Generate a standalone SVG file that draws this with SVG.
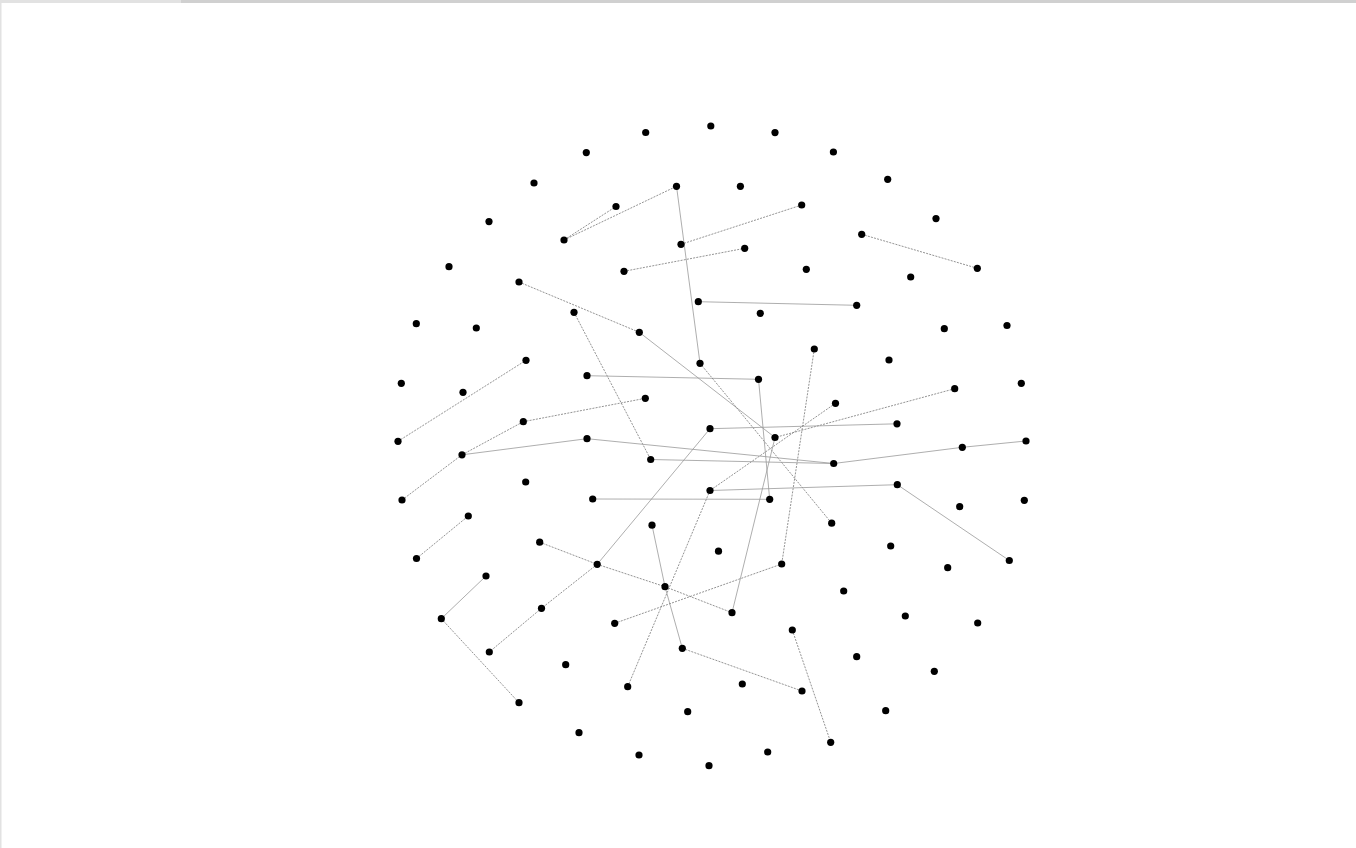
<svg xmlns="http://www.w3.org/2000/svg" width="1356" height="848" viewBox="0 0 1356 848">
<style>
.n{fill:#000}
circle{r:3.6px}
.e{stroke:#999;stroke-width:0.8;fill:none}
.d{stroke:#777;stroke-width:0.8;fill:none;stroke-dasharray:2 1.2}
</style>
<rect width="1356" height="848" fill="#fff"/>
<rect x="0" y="0" width="1356" height="3" fill="#d0d0d0"/>
<rect x="0" y="0" width="181" height="3" fill="#e2e2e2"/>
<rect x="0" y="0" width="1.5" height="848" fill="#e2e2e2"/>
<g id="edges">
<line class="d" x1="564" y1="240" x2="616" y2="206.5"/>
<line class="d" x1="564" y1="240" x2="676.5" y2="186.3"/>
<line class="e" x1="676.5" y1="186.3" x2="700" y2="363.3"/>
<line class="d" x1="681" y1="244.3" x2="801.7" y2="205"/>
<line class="d" x1="624" y1="271.3" x2="744.7" y2="248.3"/>
<line class="d" x1="861.7" y1="234.3" x2="977.3" y2="268.3"/>
<line class="e" x1="698.3" y1="301.7" x2="856.7" y2="305.3"/>
<line class="d" x1="519" y1="282" x2="639.3" y2="332.3"/>
<line class="e" x1="639.3" y1="332.3" x2="775" y2="437.5"/>
<line class="d" x1="574" y1="312.3" x2="650.7" y2="459.5"/>
<line class="d" x1="398" y1="441.3" x2="526" y2="360.3"/>
<line class="e" x1="587" y1="375.7" x2="758.5" y2="379.3"/>
<line class="d" x1="700" y1="363.3" x2="831.7" y2="523.2"/>
<line class="e" x1="758.5" y1="379.3" x2="769.7" y2="499.3"/>
<line class="d" x1="814.3" y1="349" x2="781.7" y2="564"/>
<line class="d" x1="835.5" y1="403.3" x2="710" y2="490.5"/>
<line class="d" x1="954.7" y1="388.7" x2="775" y2="437.5"/>
<line class="e" x1="710" y1="428.7" x2="897" y2="423.8"/>
<line class="e" x1="710" y1="428.7" x2="597.2" y2="564.3"/>
<line class="d" x1="597.2" y1="564.3" x2="541.5" y2="608.3"/>
<line class="d" x1="541.5" y1="608.3" x2="489.3" y2="652"/>
<line class="e" x1="587" y1="438.7" x2="833.7" y2="463.5"/>
<line class="e" x1="650.7" y1="459.5" x2="833.7" y2="463.5"/>
<line class="e" x1="462" y1="454.8" x2="587" y2="438.7"/>
<line class="d" x1="402" y1="500" x2="462" y2="454.8"/>
<line class="d" x1="462" y1="454.8" x2="523.3" y2="421.7"/>
<line class="d" x1="523.3" y1="421.7" x2="645.3" y2="398.3"/>
<line class="e" x1="592.7" y1="499" x2="769.7" y2="499.3"/>
<line class="e" x1="710" y1="490.5" x2="897.3" y2="484.7"/>
<line class="e" x1="897.3" y1="484.7" x2="1009.3" y2="560.5"/>
<line class="e" x1="833.7" y1="463.5" x2="962.3" y2="447.3"/>
<line class="e" x1="962.3" y1="447.3" x2="1026" y2="441"/>
<line class="d" x1="710" y1="490.5" x2="627.7" y2="686.7"/>
<line class="e" x1="652" y1="525.2" x2="665" y2="586.7"/>
<line class="e" x1="665" y1="586.7" x2="682.3" y2="648.3"/>
<line class="d" x1="539.7" y1="542.2" x2="597.2" y2="564.3"/>
<line class="d" x1="597.2" y1="564.3" x2="665" y2="586.7"/>
<line class="d" x1="665" y1="586.7" x2="732" y2="612.7"/>
<line class="d" x1="614.7" y1="623.3" x2="781.7" y2="564"/>
<line class="d" x1="682.3" y1="648.3" x2="802" y2="691"/>
<line class="d" x1="792.3" y1="630" x2="830.7" y2="742.3"/>
<line class="e" x1="441.3" y1="618.7" x2="486" y2="576"/>
<line class="d" x1="441.3" y1="618.7" x2="519" y2="702.7"/>
<line class="d" x1="416.5" y1="558.5" x2="468.3" y2="516"/>
<line class="e" x1="732" y1="612.7" x2="775" y2="437.5"/>
</g>
<g id="nodes">
<circle id="n1" class="n" cx="710.8" cy="126" r="3.6"/>
<circle id="n2" class="n" cx="645.7" cy="132.5" r="3.6"/>
<circle id="n3" class="n" cx="775" cy="132.6" r="3.6"/>
<circle id="n4" class="n" cx="586.3" cy="152.6" r="3.6"/>
<circle id="n5" class="n" cx="833.4" cy="152" r="3.6"/>
<circle id="n6" class="n" cx="534" cy="183" r="3.6"/>
<circle id="n7" class="n" cx="887.7" cy="179.3" r="3.6"/>
<circle id="n8" class="n" cx="676.5" cy="186.3" r="3.6"/>
<circle id="n9" class="n" cx="740.4" cy="186.3" r="3.6"/>
<circle id="n10" class="n" cx="616" cy="206.5" r="3.6"/>
<circle id="n11" class="n" cx="801.7" cy="205" r="3.6"/>
<circle id="n12" class="n" cx="489" cy="221.6" r="3.6"/>
<circle id="n13" class="n" cx="936" cy="218.6" r="3.6"/>
<circle id="n14" class="n" cx="564" cy="240" r="3.6"/>
<circle id="n15" class="n" cx="681" cy="244.3" r="3.6"/>
<circle id="n16" class="n" cx="744.7" cy="248.3" r="3.6"/>
<circle id="n17" class="n" cx="861.7" cy="234.3" r="3.6"/>
<circle id="n18" class="n" cx="449" cy="266.7" r="3.6"/>
<circle id="n19" class="n" cx="624" cy="271.3" r="3.6"/>
<circle id="n20" class="n" cx="806.3" cy="269.3" r="3.6"/>
<circle id="n21" class="n" cx="977.3" cy="268.3" r="3.6"/>
<circle id="n22" class="n" cx="910.7" cy="277" r="3.6"/>
<circle id="n23" class="n" cx="519" cy="282" r="3.6"/>
<circle id="n24" class="n" cx="698.3" cy="301.7" r="3.6"/>
<circle id="n25" class="n" cx="856.7" cy="305.3" r="3.6"/>
<circle id="n26" class="n" cx="574" cy="312.3" r="3.6"/>
<circle id="n27" class="n" cx="760.3" cy="313.3" r="3.6"/>
<circle id="n28" class="n" cx="416.3" cy="323.7" r="3.6"/>
<circle id="n29" class="n" cx="476.3" cy="328" r="3.6"/>
<circle id="n30" class="n" cx="639.3" cy="332.3" r="3.6"/>
<circle id="n31" class="n" cx="944.3" cy="328.7" r="3.6"/>
<circle id="n32" class="n" cx="1007" cy="325.5" r="3.6"/>
<circle id="n33" class="n" cx="814.3" cy="349" r="3.6"/>
<circle id="n34" class="n" cx="526" cy="360.3" r="3.6"/>
<circle id="n35" class="n" cx="700" cy="363.3" r="3.6"/>
<circle id="n36" class="n" cx="889" cy="360" r="3.6"/>
<circle id="n37" class="n" cx="401.3" cy="383.3" r="3.6"/>
<circle id="n38" class="n" cx="463" cy="392.3" r="3.6"/>
<circle id="n39" class="n" cx="587" cy="375.7" r="3.6"/>
<circle id="n40" class="n" cx="758.5" cy="379.3" r="3.6"/>
<circle id="n41" class="n" cx="1021.3" cy="383.3" r="3.6"/>
<circle id="n42" class="n" cx="954.7" cy="388.7" r="3.6"/>
<circle id="n43" class="n" cx="645.3" cy="398.3" r="3.6"/>
<circle id="n44" class="n" cx="835.5" cy="403.3" r="3.6"/>
<circle id="n45" class="n" cx="523.3" cy="421.7" r="3.6"/>
<circle id="n46" class="n" cx="710" cy="428.7" r="3.6"/>
<circle id="n47" class="n" cx="897" cy="423.8" r="3.6"/>
<circle id="n48" class="n" cx="775" cy="437.5" r="3.6"/>
<circle id="n49" class="n" cx="398" cy="441.3" r="3.6"/>
<circle id="n50" class="n" cx="587" cy="438.7" r="3.6"/>
<circle id="n51" class="n" cx="1026" cy="441" r="3.6"/>
<circle id="n52" class="n" cx="962.3" cy="447.3" r="3.6"/>
<circle id="n53" class="n" cx="462" cy="454.8" r="3.6"/>
<circle id="n54" class="n" cx="650.7" cy="459.5" r="3.6"/>
<circle id="n55" class="n" cx="833.7" cy="463.5" r="3.6"/>
<circle id="n56" class="n" cx="525.7" cy="482" r="3.6"/>
<circle id="n57" class="n" cx="710" cy="490.5" r="3.6"/>
<circle id="n58" class="n" cx="897.3" cy="484.7" r="3.6"/>
<circle id="n59" class="n" cx="402" cy="500" r="3.6"/>
<circle id="n60" class="n" cx="592.7" cy="499" r="3.6"/>
<circle id="n61" class="n" cx="769.7" cy="499.3" r="3.6"/>
<circle id="n62" class="n" cx="1024.3" cy="500.3" r="3.6"/>
<circle id="n63" class="n" cx="959.7" cy="506.7" r="3.6"/>
<circle id="n64" class="n" cx="468.3" cy="516" r="3.6"/>
<circle id="n65" class="n" cx="652" cy="525.2" r="3.6"/>
<circle id="n66" class="n" cx="831.7" cy="523.2" r="3.6"/>
<circle id="n67" class="n" cx="539.7" cy="542.2" r="3.6"/>
<circle id="n68" class="n" cx="718.5" cy="551.2" r="3.6"/>
<circle id="n69" class="n" cx="890.7" cy="546" r="3.6"/>
<circle id="n70" class="n" cx="416.5" cy="558.5" r="3.6"/>
<circle id="n71" class="n" cx="1009.3" cy="560.5" r="3.6"/>
<circle id="n72" class="n" cx="947.7" cy="567.7" r="3.6"/>
<circle id="n73" class="n" cx="597.2" cy="564.3" r="3.6"/>
<circle id="n74" class="n" cx="781.7" cy="564" r="3.6"/>
<circle id="n75" class="n" cx="486" cy="576" r="3.6"/>
<circle id="n76" class="n" cx="665" cy="586.7" r="3.6"/>
<circle id="n77" class="n" cx="843.7" cy="591" r="3.6"/>
<circle id="n78" class="n" cx="441.3" cy="618.7" r="3.6"/>
<circle id="n79" class="n" cx="541.5" cy="608.3" r="3.6"/>
<circle id="n80" class="n" cx="732" cy="612.7" r="3.6"/>
<circle id="n81" class="n" cx="905.3" cy="616" r="3.6"/>
<circle id="n82" class="n" cx="977.7" cy="623" r="3.6"/>
<circle id="n83" class="n" cx="614.7" cy="623.3" r="3.6"/>
<circle id="n84" class="n" cx="792.3" cy="630" r="3.6"/>
<circle id="n85" class="n" cx="489.3" cy="652" r="3.6"/>
<circle id="n86" class="n" cx="682.3" cy="648.3" r="3.6"/>
<circle id="n87" class="n" cx="856.7" cy="656.7" r="3.6"/>
<circle id="n88" class="n" cx="565.7" cy="664.7" r="3.6"/>
<circle id="n89" class="n" cx="934.3" cy="671.3" r="3.6"/>
<circle id="n90" class="n" cx="627.7" cy="686.7" r="3.6"/>
<circle id="n91" class="n" cx="742.3" cy="684" r="3.6"/>
<circle id="n92" class="n" cx="802" cy="691" r="3.6"/>
<circle id="n93" class="n" cx="519" cy="702.7" r="3.6"/>
<circle id="n94" class="n" cx="687.7" cy="711.7" r="3.6"/>
<circle id="n95" class="n" cx="885.7" cy="710.7" r="3.6"/>
<circle id="n96" class="n" cx="579" cy="732.7" r="3.6"/>
<circle id="n97" class="n" cx="830.7" cy="742.3" r="3.6"/>
<circle id="n98" class="n" cx="639" cy="755" r="3.6"/>
<circle id="n99" class="n" cx="767.7" cy="752" r="3.6"/>
<circle id="n100" class="n" cx="709" cy="765.7" r="3.6"/>
</g>
</svg>
